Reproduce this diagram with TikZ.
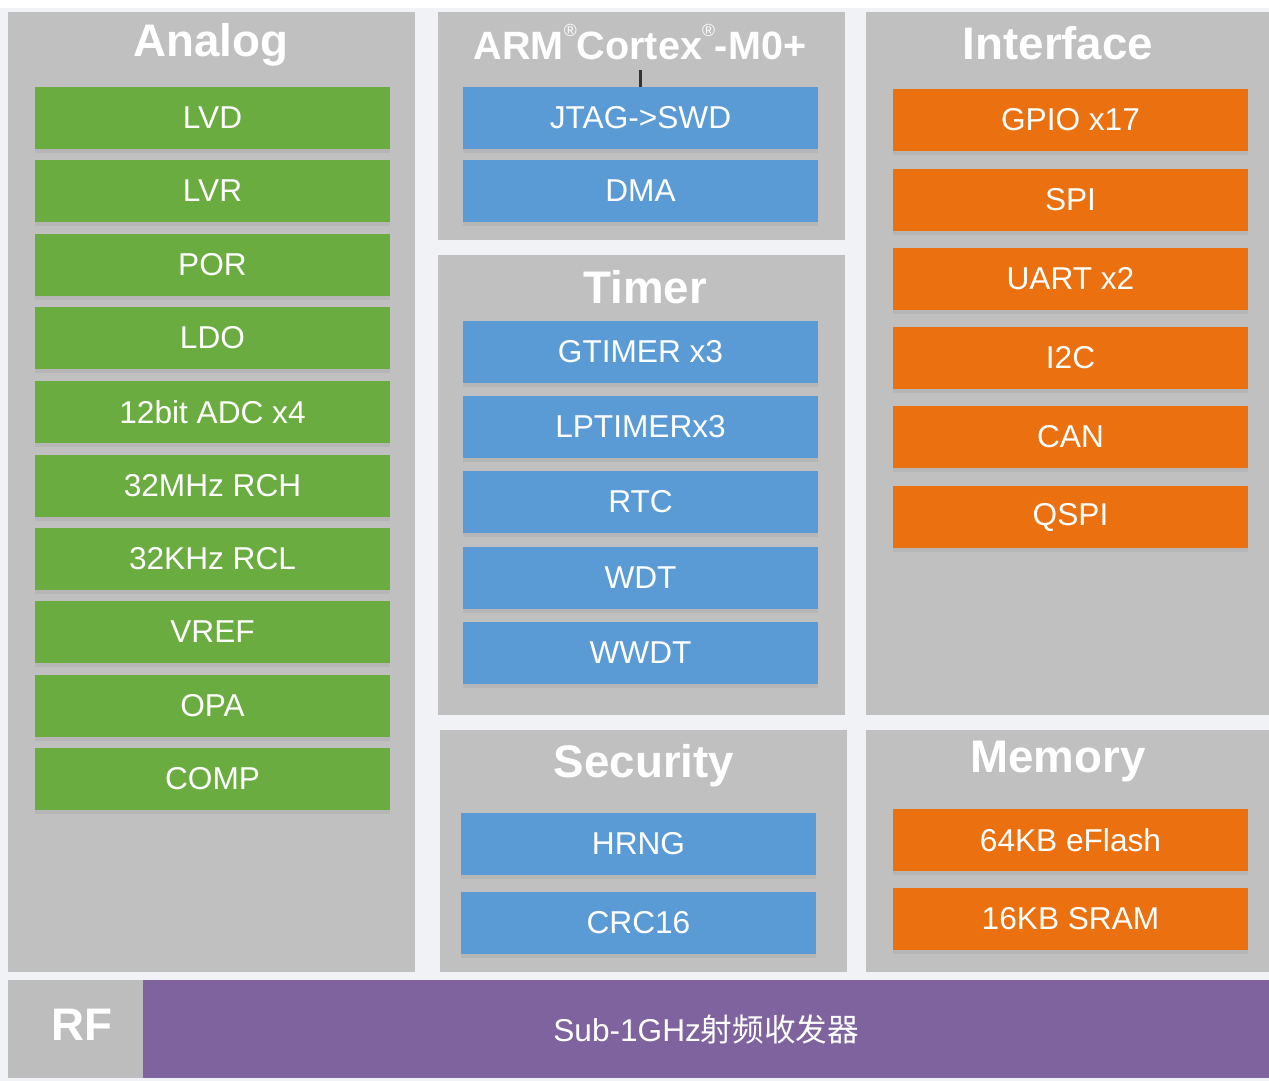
\documentclass[tikz,border=0pt]{standalone}
\usepackage{fontspec}
\setmainfont{Liberation Sans}
\newfontfamily\cjkfont{Noto Sans CJK SC}
\usetikzlibrary{shadows}
\definecolor{panelGray}{RGB}{192,192,192}
\definecolor{gapWhite}{RGB}{240,242,246}
\definecolor{analogGreen}{RGB}{106,172,64}
\definecolor{coreBlue}{RGB}{91,155,213}
\definecolor{ifOrange}{RGB}{235,112,16}
\definecolor{rfPurple}{RGB}{126,99,158}

\begin{document}
\begin{tikzpicture}[x=0.02cm,y=-0.02cm,
  panel/.style={fill=panelGray},
  title/.style={text=white,font=\fontsize{26}{30}\selectfont\bfseries},
  block/.style={minimum width=7.1cm,minimum height=1.24cm,inner sep=0pt,text=white,
    font=\fontsize{18}{22}\selectfont,
    drop shadow={opacity=0.15,shadow xshift=0pt,shadow yshift=-2pt}},
  greenblock/.style={block,fill=analogGreen},
  blueblock/.style={block,fill=coreBlue},
  orangeblock/.style={block,fill=ifOrange}]
\useasboundingbox (0,0) rectangle (1269,1081);
\fill [white] (0,0) rectangle (1269,1081);
\fill [gapWhite] (0,8) rectangle (1269,1081);
%
% panels
\fill [panel] (8,12) rectangle (415,972);
\fill [panel] (438,12) rectangle (845,240);
\fill [panel] (438,255) rectangle (845,715);
\fill [panel] (440,730) rectangle (847,972);
\fill [panel] (866,12) rectangle (1269,715);
\fill [panel] (866,730) rectangle (1269,972);
\fill [panelGray!105] (8,980) rectangle (143,1078);
%
% titles
\node [title] (analog) at (211,45) {Analog};
\node [title, font=\fontsize{22.5}{26}\selectfont\bfseries] (arm) at (640,42)
  {ARM\raisebox{0.6em}{\fontsize{10}{10}\selectfont\mdseries\textregistered}Cortex\raisebox{0.6em}{\fontsize{10}{10}\selectfont\mdseries\textregistered}-M0+};
\node [title] (timer) at (645,287) {Timer};
\node [title] (security) at (644,766) {Security};
\node [title] (interface) at (1058,43) {Interface};
\node [title] (memory) at (1058,762) {Memory};
\node [title] (rf) at (82,1025) {RF};
%
% analog
\node [greenblock] (lvd) at (212.5,118) {LVD};
\node [greenblock] (lvr) at (212.5,191) {LVR};
\node [greenblock] (por) at (212.5,265) {POR};
\node [greenblock] (ldo) at (212.5,338) {LDO};
\node [greenblock] (adc) at (212.5,412) {12bit ADC x4};
\node [greenblock] (rch) at (212.5,486) {32MHz RCH};
\node [greenblock] (rcl) at (212.5,559) {32KHz RCL};
\node [greenblock] (vref) at (212.5,632) {VREF};
\node [greenblock] (opa) at (212.5,706) {OPA};
\node [greenblock] (comp) at (212.5,779) {COMP};
%
% core
\node [blueblock] (jtag) at (640.5,118) {JTAG->SWD};
\node [blueblock] (dma) at (640.5,191) {DMA};
\coordinate (armtick) at (640.5,70);
\draw [black!80, line width=1.2pt] (armtick) -- (jtag.north);
%
% timer
\node [blueblock] (gtimer) at (640.5,352) {GTIMER x3};
\node [blueblock] (lptimer) at (640.5,427) {LPTIMERx3};
\node [blueblock] (rtc) at (640.5,502) {RTC};
\node [blueblock] (wdt) at (640.5,578) {WDT};
\node [blueblock] (wwdt) at (640.5,653) {WWDT};
%
% security
\node [blueblock] (hrng) at (638.5,844) {HRNG};
\node [blueblock] (crc) at (638.5,923) {CRC16};
%
% interface
\node [orangeblock] (gpio) at (1070.5,120) {GPIO x17};
\node [orangeblock] (spi) at (1070.5,200) {SPI};
\node [orangeblock] (uart) at (1070.5,279) {UART x2};
\node [orangeblock] (iic) at (1070.5,358) {I2C};
\node [orangeblock] (can) at (1070.5,437) {CAN};
\node [orangeblock] (qspi) at (1070.5,517) {QSPI};
%
% memory
\node [orangeblock] (eflash) at (1070.5,840) {64KB eFlash};
\node [orangeblock] (sram) at (1070.5,919) {16KB SRAM};
%
% rf
\node [fill=rfPurple, minimum width=22.52cm, minimum height=1.96cm, inner sep=0pt, anchor=north west,
  text=white, font=\fontsize{18}{22}\selectfont] (radio) at (143,980) {Sub-1GHz{\cjkfont 射频收发器}};
%
\end{tikzpicture}
\end{document}
